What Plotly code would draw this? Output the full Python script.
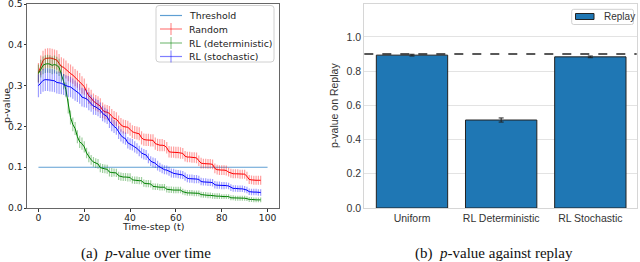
import plotly.graph_objects as go

# ---------------- data ----------------
t_steps = list(range(98))

random_mean = [0.332, 0.350, 0.362, 0.367, 0.368, 0.368, 0.367, 0.365, 0.363, 0.355,
               0.347, 0.345, 0.340, 0.333, 0.330, 0.326, 0.320, 0.316, 0.310, 0.302,
               0.298, 0.285, 0.275, 0.270, 0.262, 0.258, 0.255, 0.250, 0.240, 0.236,
               0.235, 0.232, 0.225, 0.220, 0.218, 0.210, 0.204, 0.200, 0.199, 0.198,
               0.193, 0.187, 0.185, 0.184, 0.182, 0.172, 0.168, 0.167, 0.167, 0.166,
               0.166, 0.158, 0.155, 0.154, 0.154, 0.153, 0.148, 0.138, 0.137, 0.137,
               0.136, 0.136, 0.135, 0.134, 0.127, 0.125, 0.125, 0.124, 0.124, 0.123,
               0.116, 0.110, 0.109, 0.109, 0.108, 0.108, 0.107, 0.097, 0.094, 0.093,
               0.093, 0.093, 0.092, 0.088, 0.085, 0.084, 0.084, 0.084, 0.083, 0.083,
               0.083, 0.078, 0.070, 0.069, 0.068, 0.068, 0.068, 0.068]
random_err = [0.024, 0.024, 0.024, 0.024, 0.024, 0.024, 0.024, 0.024, 0.024, 0.023,
              0.023, 0.022, 0.022, 0.022, 0.022, 0.021, 0.021, 0.021, 0.021, 0.021,
              0.020, 0.020, 0.020, 0.020, 0.019, 0.019, 0.019, 0.019, 0.019, 0.018,
              0.018, 0.018, 0.018, 0.018, 0.017, 0.017, 0.017, 0.017, 0.017, 0.016,
              0.016, 0.016, 0.016, 0.016, 0.016, 0.016, 0.015, 0.015, 0.015, 0.015,
              0.015, 0.015, 0.015, 0.015, 0.015, 0.014, 0.014, 0.014, 0.014, 0.014,
              0.014, 0.014, 0.014, 0.013, 0.013, 0.013, 0.013, 0.013, 0.013, 0.013,
              0.013, 0.013, 0.012, 0.012, 0.012, 0.012, 0.012, 0.012, 0.012, 0.012,
              0.012, 0.012, 0.012, 0.011, 0.011, 0.011, 0.011, 0.011, 0.011, 0.011,
              0.011, 0.011, 0.011, 0.011, 0.011, 0.011, 0.011, 0.011]

det_mean = [0.330, 0.342, 0.350, 0.353, 0.354, 0.353, 0.350, 0.352, 0.350, 0.345,
            0.330, 0.310, 0.290, 0.250, 0.222, 0.205, 0.195, 0.175, 0.162, 0.158,
            0.150, 0.135, 0.125, 0.118, 0.113, 0.110, 0.108, 0.099, 0.097, 0.096,
            0.095, 0.088, 0.087, 0.087, 0.086, 0.079, 0.077, 0.076, 0.076, 0.075,
            0.075, 0.069, 0.068, 0.068, 0.067, 0.067, 0.061, 0.060, 0.060, 0.059,
            0.053, 0.052, 0.052, 0.051, 0.051, 0.051, 0.046, 0.045, 0.045, 0.044,
            0.044, 0.044, 0.044, 0.040, 0.038, 0.037, 0.037, 0.037, 0.036, 0.036,
            0.036, 0.033, 0.032, 0.032, 0.031, 0.031, 0.030, 0.029, 0.029, 0.029,
            0.028, 0.028, 0.028, 0.028, 0.025, 0.025, 0.024, 0.024, 0.024, 0.024,
            0.024, 0.023, 0.021, 0.021, 0.020, 0.020, 0.020, 0.020]
det_err = [0.022, 0.022, 0.022, 0.022, 0.022, 0.022, 0.022, 0.022, 0.021, 0.021,
           0.020, 0.019, 0.018, 0.018, 0.017, 0.017, 0.016, 0.016, 0.015, 0.015,
           0.014, 0.013, 0.013, 0.012, 0.012, 0.012, 0.012, 0.011, 0.011, 0.011,
           0.011, 0.011, 0.011, 0.010, 0.010, 0.010, 0.010, 0.010, 0.010, 0.010,
           0.010, 0.009, 0.009, 0.009, 0.009, 0.009, 0.009, 0.009, 0.009, 0.009,
           0.008, 0.008, 0.008, 0.008, 0.008, 0.008, 0.008, 0.008, 0.008, 0.008,
           0.008, 0.008, 0.008, 0.007, 0.007, 0.007, 0.007, 0.007, 0.007, 0.007,
           0.007, 0.007, 0.007, 0.007, 0.007, 0.007, 0.007, 0.007, 0.007, 0.007,
           0.006, 0.006, 0.006, 0.006, 0.006, 0.006, 0.006, 0.006, 0.006, 0.006,
           0.006, 0.006, 0.006, 0.006, 0.006, 0.006, 0.006, 0.006]

stoch_mean = [0.300, 0.308, 0.313, 0.315, 0.315, 0.314, 0.313, 0.312, 0.308, 0.307,
              0.306, 0.303, 0.300, 0.298, 0.297, 0.293, 0.288, 0.284, 0.280, 0.272,
              0.270, 0.268, 0.262, 0.257, 0.250, 0.248, 0.245, 0.240, 0.232, 0.228,
              0.224, 0.213, 0.205, 0.200, 0.196, 0.185, 0.178, 0.173, 0.170, 0.160,
              0.157, 0.155, 0.150, 0.146, 0.140, 0.135, 0.132, 0.130, 0.122, 0.115,
              0.112, 0.110, 0.104, 0.100, 0.096, 0.094, 0.093, 0.090, 0.086, 0.085,
              0.084, 0.083, 0.082, 0.081, 0.077, 0.073, 0.072, 0.072, 0.071, 0.071,
              0.070, 0.065, 0.064, 0.064, 0.063, 0.063, 0.062, 0.057, 0.056, 0.056,
              0.055, 0.055, 0.055, 0.054, 0.050, 0.048, 0.048, 0.047, 0.047, 0.047,
              0.046, 0.044, 0.040, 0.039, 0.039, 0.039, 0.038, 0.038]
stoch_err = [0.028, 0.028, 0.028, 0.028, 0.028, 0.028, 0.028, 0.028, 0.027, 0.027,
             0.027, 0.026, 0.026, 0.026, 0.025, 0.025, 0.025, 0.024, 0.024, 0.023,
             0.023, 0.022, 0.022, 0.021, 0.021, 0.020, 0.020, 0.019, 0.019, 0.018,
             0.018, 0.017, 0.017, 0.016, 0.016, 0.016, 0.015, 0.015, 0.015, 0.014,
             0.014, 0.014, 0.014, 0.013, 0.013, 0.013, 0.013, 0.012, 0.012, 0.012,
             0.012, 0.012, 0.012, 0.011, 0.011, 0.011, 0.011, 0.011, 0.011, 0.011,
             0.010, 0.010, 0.010, 0.010, 0.010, 0.010, 0.010, 0.010, 0.010, 0.010,
             0.009, 0.009, 0.009, 0.009, 0.009, 0.009, 0.009, 0.009, 0.009, 0.009,
             0.009, 0.009, 0.008, 0.008, 0.008, 0.008, 0.008, 0.008, 0.008, 0.008,
             0.008, 0.008, 0.008, 0.008, 0.008, 0.008, 0.008, 0.008]

threshold_x = [0, 100]
threshold_value = 0.1

left_yticks = [0.0, 0.1, 0.2, 0.3, 0.4, 0.5]
left_xticks = [0, 20, 40, 60, 80, 100]

bar_categories = ["Uniform", "RL Deterministic", "RL Stochastic"]
bar_values = [0.893, 0.514, 0.883]
bar_errors = [0.005, 0.012, 0.005]
replay_threshold = 0.9
right_yticks = [0.0, 0.2, 0.4, 0.6, 0.8, 1.0]

legend_left = ["Threshold", "Random", "RL (deterministic)", "RL (stochastic)"]

# ---------------- helpers (pixel -> paper) ----------------
W, H = 640, 262
def px(x): return x / W
def py(y): return 1 - y / H

fig = go.Figure()

DV = "DejaVu Sans"
LS = "Liberation Sans, Arial"

# left plot traces
fig.add_trace(go.Scatter(x=threshold_x, y=[threshold_value] * len(threshold_x), mode="lines",
                         line=dict(color="#5f9fd3", width=1.2), xaxis="x", yaxis="y",
                         showlegend=False, hoverinfo="skip"))
series = [
    (random_mean, random_err, "#ff0000", "rgba(255,0,0,0.38)"),
    (det_mean, det_err, "#008000", "rgba(0,128,0,0.38)"),
    (stoch_mean, stoch_err, "#0000ff", "rgba(0,0,255,0.38)"),
]
for m, e, c, ec in series:
    fig.add_trace(go.Scatter(x=t_steps, y=m, mode="lines",
                             line=dict(color=c, width=1),
                             error_y=dict(type="data", array=e, visible=True, color=ec,
                                          thickness=1.2, width=0),
                             xaxis="x", yaxis="y", showlegend=False))

# right plot bars
fig.add_trace(go.Bar(x=[0, 1, 2], y=bar_values, width=0.8,
                     marker=dict(color="#1f77b4", line=dict(color="#222222", width=1)),
                     error_y=dict(type="data", array=bar_errors, visible=True,
                                  color="#222222", thickness=1, width=2.5),
                     xaxis="x2", yaxis="y2", showlegend=False))

L0, L1 = 27, 279
T0, B0 = 3.8, 208
R0, R1 = 364.3, 636.7
T1 = 4.3

TICKF = dict(family=DV, size=9.2, color="#222")
fig.update_layout(
    width=W, height=H,
    margin=dict(l=0, r=0, t=0, b=0, autoexpand=False),
    paper_bgcolor="white", plot_bgcolor="white",
    xaxis=dict(domain=[px(L0), px(L1)], range=[-5, 105], tickvals=left_xticks,
               ticks="outside", ticklen=2.5, tickcolor="#333", tickwidth=1,
               ticklabelstandoff=-2, ticklabeloverflow="allow",
               showline=True, linecolor="#666", linewidth=1, mirror=True,
               showgrid=False, zeroline=False, automargin=False,
               tickfont=TICKF, anchor="y"),
    yaxis=dict(domain=[py(B0), py(T0)], range=[0, 0.501], tickvals=left_yticks,
               tickformat=".1f",
               ticks="outside", ticklen=2.5, tickcolor="#333", tickwidth=1,
               ticklabelstandoff=-1, ticklabeloverflow="allow",
               showline=True, linecolor="#666", linewidth=1, mirror=True,
               showgrid=False, zeroline=False, automargin=False,
               tickfont=TICKF, anchor="x"),
    xaxis2=dict(domain=[px(R0), px(R1)], range=[-0.535, 2.52], tickvals=[0, 1, 2],
                ticktext=bar_categories, ticks="", showline=True, linecolor="#d6d6d6",
                linewidth=1, mirror=True, showgrid=False, zeroline=False, automargin=False,
                tickfont=dict(family=LS, size=10.5, color="#333"), anchor="y2"),
    yaxis2=dict(domain=[py(B0), py(T1)], range=[0, 1.19], tickvals=right_yticks,
                tickformat=".1f", ticks="", showline=True, linecolor="#d6d6d6",
                linewidth=1, mirror=True, showgrid=True, gridcolor="#e3e3e3",
                gridwidth=1, zeroline=False, automargin=False,
                tickfont=dict(family=LS, size=10.5, color="#333"), anchor="x2"),
)

# dashed threshold on replay plot
fig.add_shape(type="line", xref="x2 domain", yref="y2", x0=0, x1=1,
              y0=replay_threshold, y1=replay_threshold,
              line=dict(color="#222", width=1.5, dash="dash"))

ann = []
def add_text(text, x, y, font, angle=0, xanchor="center"):
    ann.append(dict(text=text, x=px(x), y=py(y), xref="paper", yref="paper",
                    xanchor=xanchor, yanchor="middle", showarrow=False,
                    textangle=angle, font=font))

# axis titles
add_text("p-value", 6.5, 105.5, dict(family=DV, size=9.5, color="#222"), angle=-90)
add_text("Time-step (t)", 153, 226, dict(family=DV, size=9.5, color="#222"))
add_text("p-value on Replay", 334, 106, dict(family=LS, size=10.5, color="#333"), angle=-90)
# captions
CAP = dict(family="Liberation Serif, Times New Roman", size=15, color="#111")
add_text("(a)  <i>p</i>-value over time", 146, 253, CAP)
add_text("(b)  <i>p</i>-value against replay", 494, 253, CAP)

shapes = []
def rrect(x0, y0, x1, y1, r, color, fill):
    rx, ry = r / W, r / H
    X0, X1 = px(x0), px(x1)
    Y0, Y1 = py(y1), py(y0)  # bottom, top
    path = (f"M {X0+rx},{Y0} L {X1-rx},{Y0} Q {X1},{Y0} {X1},{Y0+ry} "
            f"L {X1},{Y1-ry} Q {X1},{Y1} {X1-rx},{Y1} L {X0+rx},{Y1} "
            f"Q {X0},{Y1} {X0},{Y1-ry} L {X0},{Y0+ry} Q {X0},{Y0} {X0+rx},{Y0} Z")
    return dict(type="path", path=path, xref="paper", yref="paper",
                line=dict(color=color, width=1), fillcolor=fill, layer="above")

# left legend
shapes.append(rrect(156, 5.5, 274, 62, 3, "#d0d0d0", "rgba(255,255,255,0.85)"))
leg_y = [15.5, 29, 43, 56.5]
leg_line = ["#5f9fd3", "rgba(255,0,0,0.5)", "rgba(0,128,0,0.5)", "rgba(0,0,255,0.5)"]
leg_tick = [None, "rgba(255,0,0,0.4)", "rgba(0,128,0,0.4)", "rgba(0,0,255,0.4)"]
for i, name in enumerate(legend_left):
    yy = leg_y[i]
    shapes.append(dict(type="line", xref="paper", yref="paper", x0=px(160), x1=px(182),
                       y0=py(yy), y1=py(yy), line=dict(color=leg_line[i], width=1.2),
                       layer="above"))
    if leg_tick[i]:
        shapes.append(dict(type="line", xref="paper", yref="paper", x0=px(171), x1=px(171),
                           y0=py(yy - 6), y1=py(yy + 6), line=dict(color=leg_tick[i], width=1.3),
                           layer="above"))
    add_text(name, 187, yy, dict(family=DV, size=9.4, color="#222"), xanchor="left")

# right legend
shapes.append(rrect(571.7, 9.3, 633.5, 24.5, 2, "#d0d0d0", "rgba(255,255,255,0.85)"))
shapes.append(dict(type="rect", xref="paper", yref="paper", x0=px(575.5), x1=px(594),
                   y0=py(19.5), y1=py(13.5), fillcolor="#1f77b4",
                   line=dict(color="#222", width=1), layer="above"))
add_text("Replay", 601.5, 16.8, dict(family=LS, size=10, color="#333"), xanchor="left")

fig.update_layout(annotations=ann, shapes=list(fig.layout.shapes) + shapes)

fig.write_html("out.html",
               config={"displayModeBar": False, "staticPlot": True},
               post_script="document.body.style.margin='0';document.body.style.padding='0';")
